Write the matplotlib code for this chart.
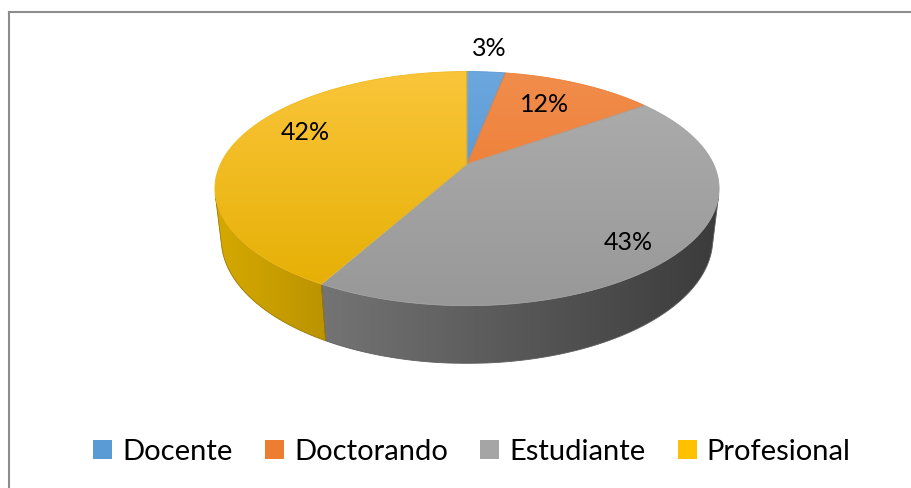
import numpy as np
import matplotlib.pyplot as plt
from matplotlib.patches import Polygon, Patch
from matplotlib.colors import to_rgb

plt.rcParams['font.family'] = ['Lato', 'DejaVu Sans']

# data
categories = ['Docente', 'Doctorando', 'Estudiante', 'Profesional']
values = [3, 12, 43, 42]

# styles
legend_colors = ['#5B9BD5', '#ED7D31', '#A5A5A5', '#FFC000']
top_colors = [('#6CA7DE', '#4888C8'), ('#F18D4C', '#EB7222'),
              ('#AEAEAE', '#989898'), ('#FAC53A', '#E4AE00')]
side_colors = [('#4A80B4', '#2A5A88'), ('#D06A25', '#8F4412'),
               ('#838383', '#3B3B3B'), ('#D6A900', '#5A4600')]
label_pos = [(489, 49), (545, 104), (628, 242), (305, 133)]

# 3d projection (perspective) of a unit disk
cx, cy = 467, 164
f, D = 1045, 4.24
alpha = np.radians(27)
thick = 0.23
ca, sa = np.cos(alpha), np.sin(alpha)


def project(theta, y, r=1.0):
    th = np.radians(theta)
    x = r * np.sin(th)
    z = -r * np.cos(th)
    d = D - (z * ca + y * sa)
    v = y * ca - z * sa
    return np.column_stack([cx + f * x / d, cy - f * v / d])


def grad_fill(ax, verts, c1, c2, extent, horizontal, zorder):
    poly = Polygon(verts, closed=True, facecolor='none', edgecolor='none')
    ax.add_patch(poly)
    c1, c2 = np.array(to_rgb(c1)), np.array(to_rgb(c2))
    t = np.linspace(0, 1, 256)
    cols = c1 + (c2 - c1) * t[:, None]
    img = cols[None, :, :] if horizontal else cols[:, None, :]
    im = ax.imshow(img, extent=extent, origin='upper', aspect='auto',
                   interpolation='bilinear', zorder=zorder)
    im.set_clip_path(poly)
    # soft edge to hide clip aliasing
    mid = (c1 + c2) / 2
    ax.add_patch(Polygon(verts, closed=True, facecolor='none', edgecolor=mid,
                         linewidth=0.6, zorder=zorder + 0.1))


fig = plt.figure(figsize=(9.12, 4.88), dpi=100)
ax = fig.add_axes([0, 0, 1, 1])

bounds = np.concatenate([[0], np.cumsum(values)]) / sum(values) * 360

# visible range of the side wall
lim = np.degrees(np.arccos(-1 / (D * ca)))
vis0, vis1 = lim, 360 - lim

rim = project(np.linspace(0, 360, 721), 0)
bot = project(np.linspace(0, 360, 721), -thick)
x_min, x_max = rim[:, 0].min(), rim[:, 0].max()
y_min, y_max = rim[:, 1].min(), rim[:, 1].max()

for i in range(len(values)):
    a0, a1 = bounds[i], bounds[i + 1]
    s0, s1 = max(a0, vis0), min(a1, vis1)
    if s1 > s0:
        th = np.linspace(s0, s1, 200)
        verts = np.vstack([project(th, 0), project(th[::-1], -thick)])
        grad_fill(ax, verts, side_colors[i][0], side_colors[i][1],
                  (x_min, x_max, bot[:, 1].max(), y_min), True, 2)

for i in range(len(values)):
    a0, a1 = bounds[i], bounds[i + 1]
    th = np.linspace(a0, a1, 200)
    verts = np.vstack([[[cx, cy]], project(th, 0)])
    grad_fill(ax, verts, top_colors[i][0], top_colors[i][1],
              (x_min, x_max, y_max, y_min), False, 3)

for i, v in enumerate(values):
    ax.text(label_pos[i][0], label_pos[i][1], f'{v}%', fontsize=18,
            ha='center', va='center', color='#000000', zorder=5)

# chart frame (top and left edges visible)
ax.plot([9, 912], [11.5, 11.5], color='#8C8C8C', lw=1.5, zorder=1)
ax.plot([9, 9], [11.5, 488], color='#8C8C8C', lw=1.5, zorder=1)

handles = [Patch(facecolor=c, edgecolor='none') for c in legend_colors]
ax.legend(handles, categories, loc='center', bbox_to_anchor=(472 / 912, 1 - 452 / 488),
          ncol=4, frameon=False, fontsize=21, handlelength=0.65, handleheight=0.65,
          handletextpad=0.35, columnspacing=1.1)

ax.set_xlim(0, 912)
ax.set_ylim(488, 0)
ax.axis('off')
fig.savefig('out.png', dpi=100)
